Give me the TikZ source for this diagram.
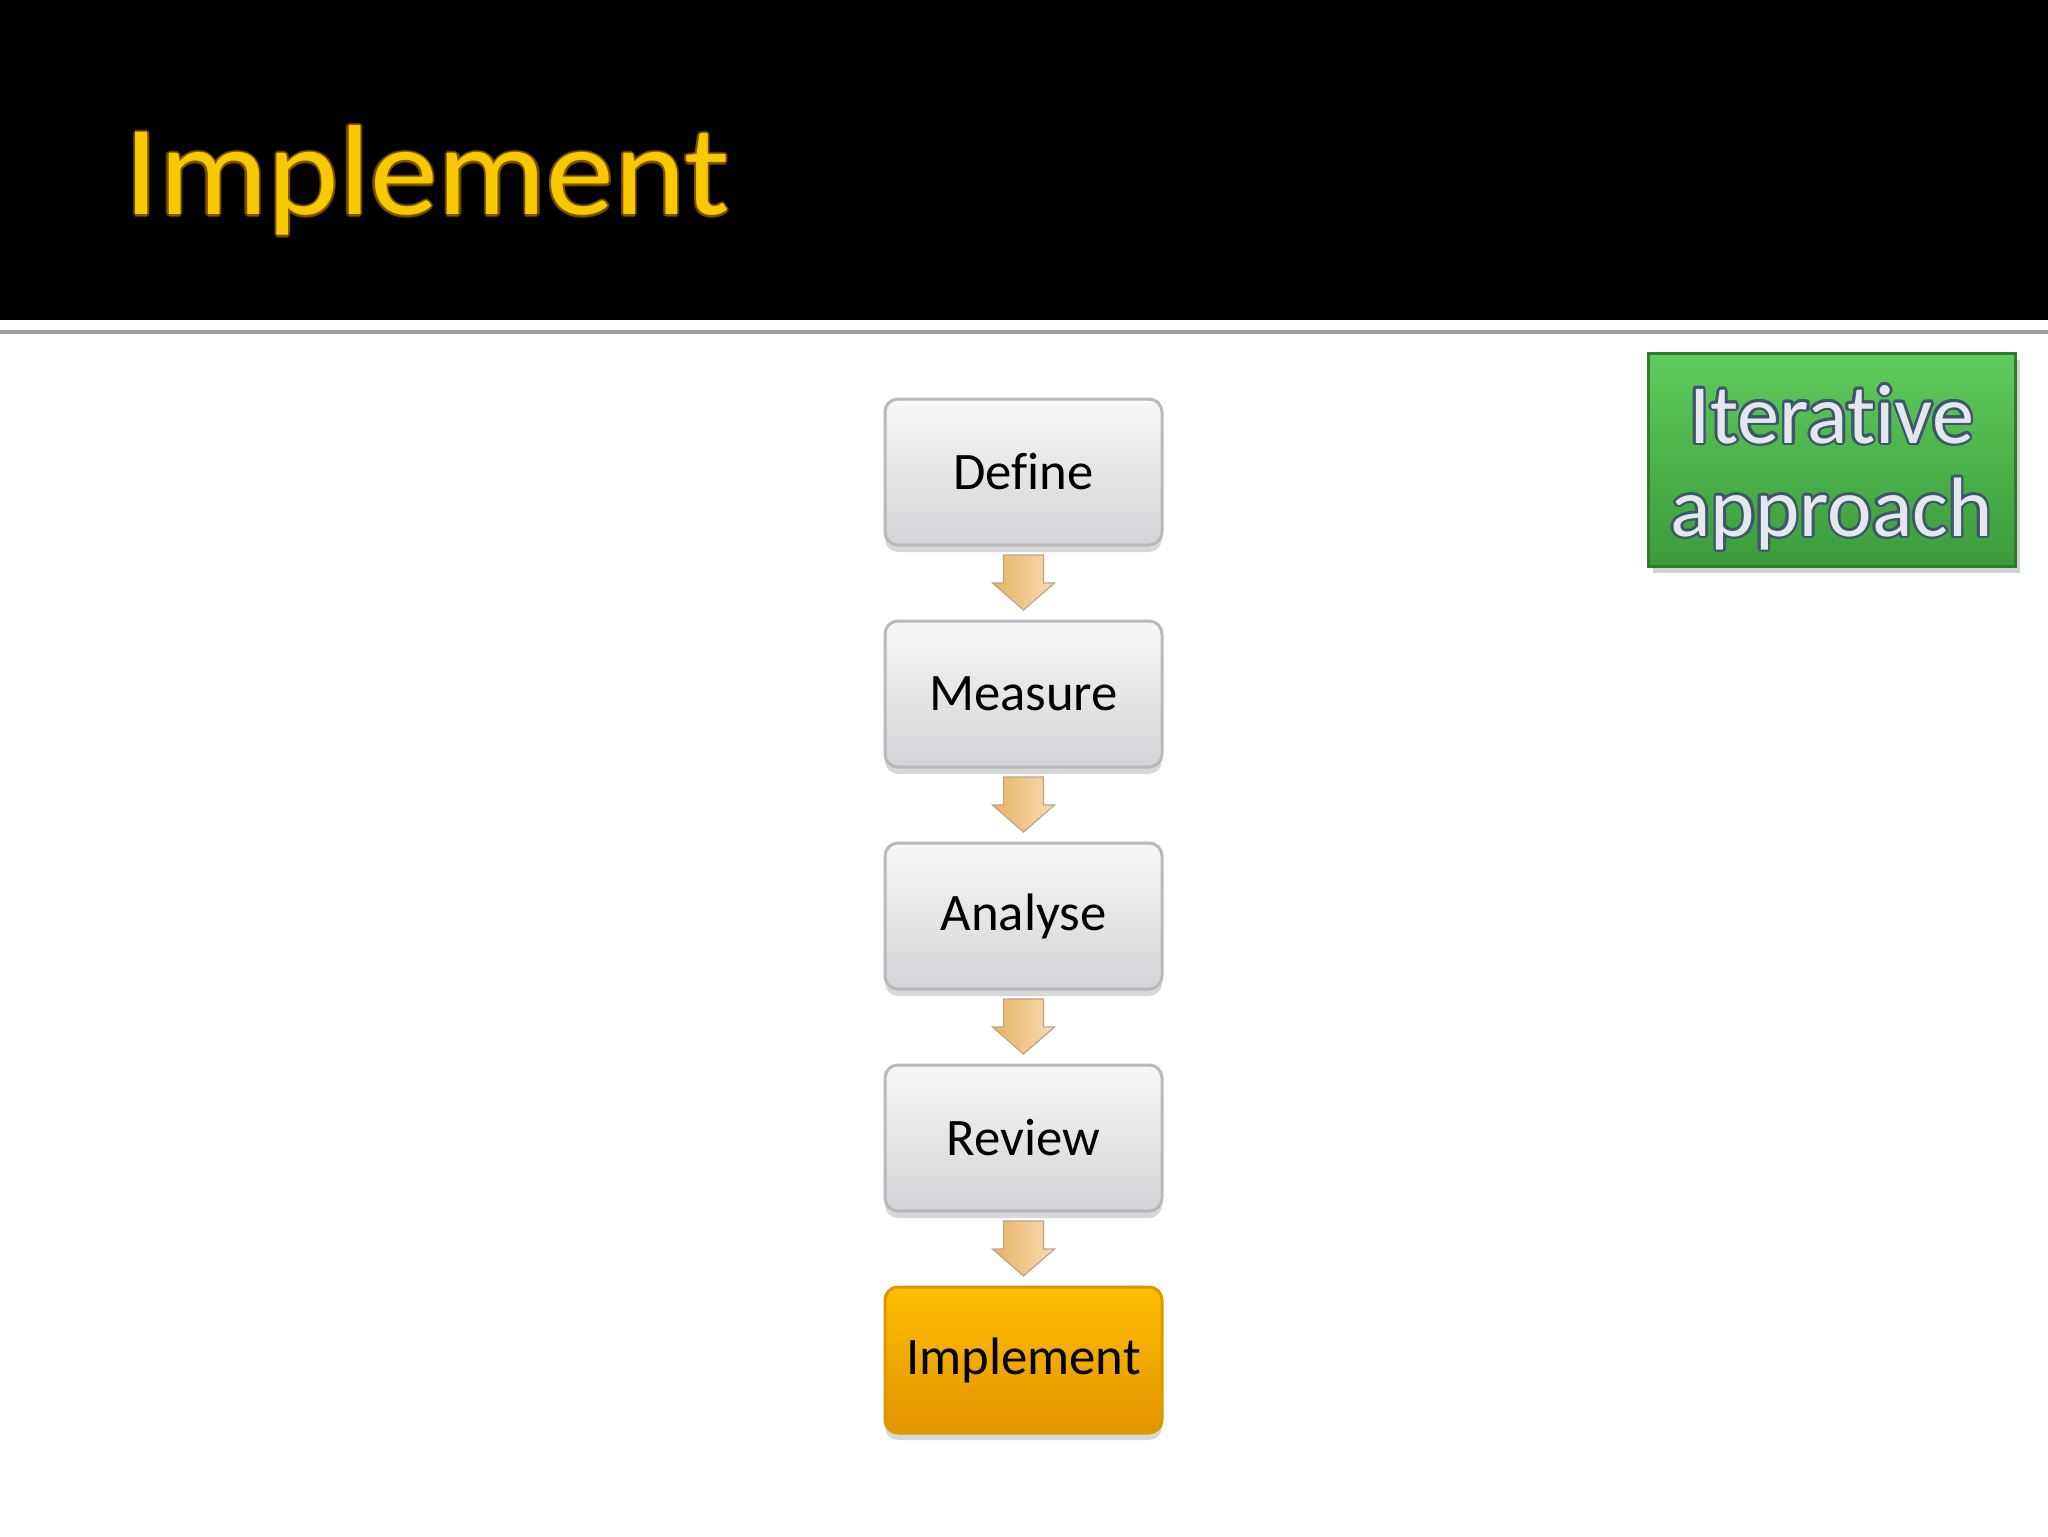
\documentclass[tikz,border=0pt]{standalone}
\usepackage{fontspec}
\setmainfont{Carlito}[Ligatures=NoCommon]
\usetikzlibrary{positioning,shadows,calc}

\definecolor{titleyellow}{HTML}{F8C800}
\definecolor{titleglow}{HTML}{8A5A00}
\definecolor{boxtop}{HTML}{F7F7F7}
\definecolor{boxbottom}{HTML}{D3D4D7}
\definecolor{boxedge}{HTML}{B8B9BC}
\definecolor{curtop}{HTML}{FFBE00}
\definecolor{curbottom}{HTML}{E29400}
\definecolor{curedge}{HTML}{D99A00}
\definecolor{arrowtail}{HTML}{EAB062}
\definecolor{arrowtip}{HTML}{F7DDB2}
\definecolor{arrowedge}{HTML}{B9A58A}
\definecolor{itertop}{HTML}{5FCB5D}
\definecolor{iterbottom}{HTML}{3B9B3B}
\definecolor{iteredge}{HTML}{2E7D2E}
\definecolor{iterline}{HTML}{3D566C}
\definecolor{iterfill}{HTML}{E4E7EB}

\begin{document}
\begin{tikzpicture}[
		x=0.1mm, y=0.1mm,
		phase/.style={rectangle, rounded corners=1.3mm, minimum width=27.7mm,
			minimum height=14.6mm, draw=boxedge, line width=0.3mm,
			top color=boxtop, bottom color=boxbottom,
			drop shadow={shadow xshift=0mm, shadow yshift=-0.7mm, opacity=0.3},
			font=\fontsize{15}{18}\selectfont},
		current/.style={phase, draw=curedge, top color=curtop, bottom color=curbottom},
		downarrow/.style={draw=arrowedge, line width=0.12mm, line join=miter,
			left color=arrowtail, right color=arrowtip},
		titletext/.style={anchor=base west, inner sep=0pt, xscale=1.06,
			font=\fontsize{36.5}{44}\selectfont},
		iterbox/.style={rectangle, minimum width=36.7mm, minimum height=21.3mm,
			draw=iteredge, line width=0.3mm, top color=itertop, bottom color=iterbottom,
			drop shadow={shadow xshift=0.5mm, shadow yshift=-0.7mm, opacity=0.35}},
		itertext/.style={align=center, font=\fontsize{24}{26.5}\selectfont, text=iterfill}
		]

	\useasboundingbox[fill=white] (0, 0) rectangle (2048, 1536);

	% Title band
	\fill[black] (0, 1216) rectangle (2048, 1536);
	\draw[gray!75, line width=0.35mm] (0, 1204) -- (2048, 1204);
	\foreach \ang in {0, 45,...,315}{
		\node[titletext, text=titleglow, opacity=0.6] at ($(124, 1321)+(\ang:2.2)$) {Implement};
	}
	\node[titletext, text=titleyellow] (title) at (124, 1321) {Implement};

	% Phases
	\node[phase] (define) at (1023.5, 1064) {Define};
	\node[phase, below=7.3mm of define] (measure) {Measure};
	\node[phase, below=7.3mm of measure] (analyse) {Analyse};
	\node[phase, below=7.3mm of analyse] (review) {Review};
	\node[current, below=7.3mm of review] (implement) {Implement};

	% Arrows between phases
	\foreach \a/\b in {define/measure, measure/analyse, analyse/review, review/implement}{
		\coordinate (\a-\b) at ($(\a.south)!0.5!(\b.north)$);
		\draw[downarrow] (\a-\b) ++(-20, 28) -- ++(40, 0) -- ++(0, -28) -- ++(11, 0)
			-- ++(-31, -27) -- ++(-31, 27) -- ++(11, 0) -- cycle;
	}

	% Iterative approach
	\node[iterbox] (iter) at (1831.5, 1076.5) {};
	\foreach \ang in {0, 30,...,330}{
		\node[itertext, text=iterline] at ($(iter.center)+(0,-8)+(\ang:2.6)$) {Iterative\\approach};
	}
	\node[itertext] (iterlabel) at ($(iter.center)+(0,-8)$) {Iterative\\approach};

\end{tikzpicture}
\end{document}
